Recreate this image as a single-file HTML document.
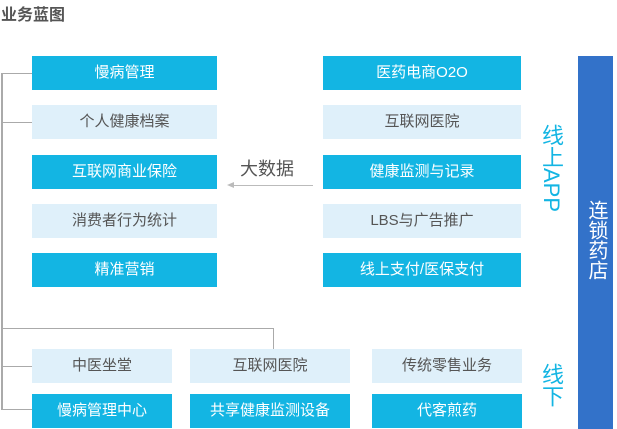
<!DOCTYPE html>
<html><head><meta charset="utf-8"><style>
body{margin:0;width:617px;height:429px;background:#fff;position:relative;overflow:hidden;font-family:"Liberation Sans","Noto Sans CJK SC",sans-serif}
.b{position:absolute;height:34px;line-height:34px;text-align:center;font-size:15px}
.d{background:#13b5e3;color:#fff}
.l{background:#dff0fa;color:#555}
.ln{position:absolute;background:#aaa}
</style></head><body>
<div style="position:absolute;left:1px;top:1px;font-size:16px;font-weight:bold;color:#555">业务蓝图</div>
<div class="ln" style="left:1px;top:73px;width:2px;height:337px"></div>
<div class="ln" style="left:1px;top:73px;width:31px;height:1px"></div>
<div class="ln" style="left:1px;top:122px;width:31px;height:1px"></div>
<div class="ln" style="left:1px;top:328px;width:273px;height:1px"></div>
<div class="ln" style="left:273px;top:328px;width:1px;height:21px"></div>
<div class="ln" style="left:1px;top:366px;width:31px;height:1px"></div>
<div class="ln" style="left:1px;top:409px;width:31px;height:1px"></div>

<div class="b d" style="left:32px;top:56px;width:185px">慢病管理</div>
<div class="b l" style="left:32px;top:105px;width:185px">个人健康档案</div>
<div class="b d" style="left:32px;top:155px;width:185px">互联网商业保险</div>
<div class="b l" style="left:32px;top:204px;width:185px">消费者行为统计</div>
<div class="b d" style="left:32px;top:253px;width:185px">精准营销</div>

<div class="b d" style="left:323px;top:56px;width:198px">医药电商O2O</div>
<div class="b l" style="left:323px;top:105px;width:198px">互联网医院</div>
<div class="b d" style="left:323px;top:155px;width:198px">健康监测与记录</div>
<div class="b l" style="left:323px;top:204px;width:198px">LBS与广告推广</div>
<div class="b d" style="left:323px;top:253px;width:198px">线上支付/医保支付</div>

<div style="position:absolute;left:240px;top:155px;font-size:18px;color:#555">大数据</div>
<div class="ln" style="left:232px;top:185px;width:81px;height:1px;background:#bbb"></div>
<div style="position:absolute;left:227px;top:182px;width:0;height:0;border-top:3px solid transparent;border-bottom:3px solid transparent;border-right:7px solid #bbb"></div>

<div style="position:absolute;left:538px;top:124px;writing-mode:vertical-rl;font-size:22px;color:#13b5e3;line-height:26px">线上APP</div>
<div style="position:absolute;left:538px;top:363px;writing-mode:vertical-rl;font-size:22px;color:#13b5e3;line-height:26px">线下</div>

<div style="position:absolute;left:578px;top:56px;width:35px;height:373px;background:#3372c9"></div>
<div style="position:absolute;left:584px;top:200px;writing-mode:vertical-rl;font-size:20px;color:#fff;line-height:24px">连锁药店</div>

<div class="b l" style="left:32px;top:349px;width:140px">中医坐堂</div>
<div class="b l" style="left:190px;top:349px;width:160px">互联网医院</div>
<div class="b l" style="left:372px;top:349px;width:150px">传统零售业务</div>
<div class="b d" style="left:32px;top:394px;width:140px">慢病管理中心</div>
<div class="b d" style="left:190px;top:394px;width:160px">共享健康监测设备</div>
<div class="b d" style="left:372px;top:394px;width:150px">代客煎药</div>
</body></html>
